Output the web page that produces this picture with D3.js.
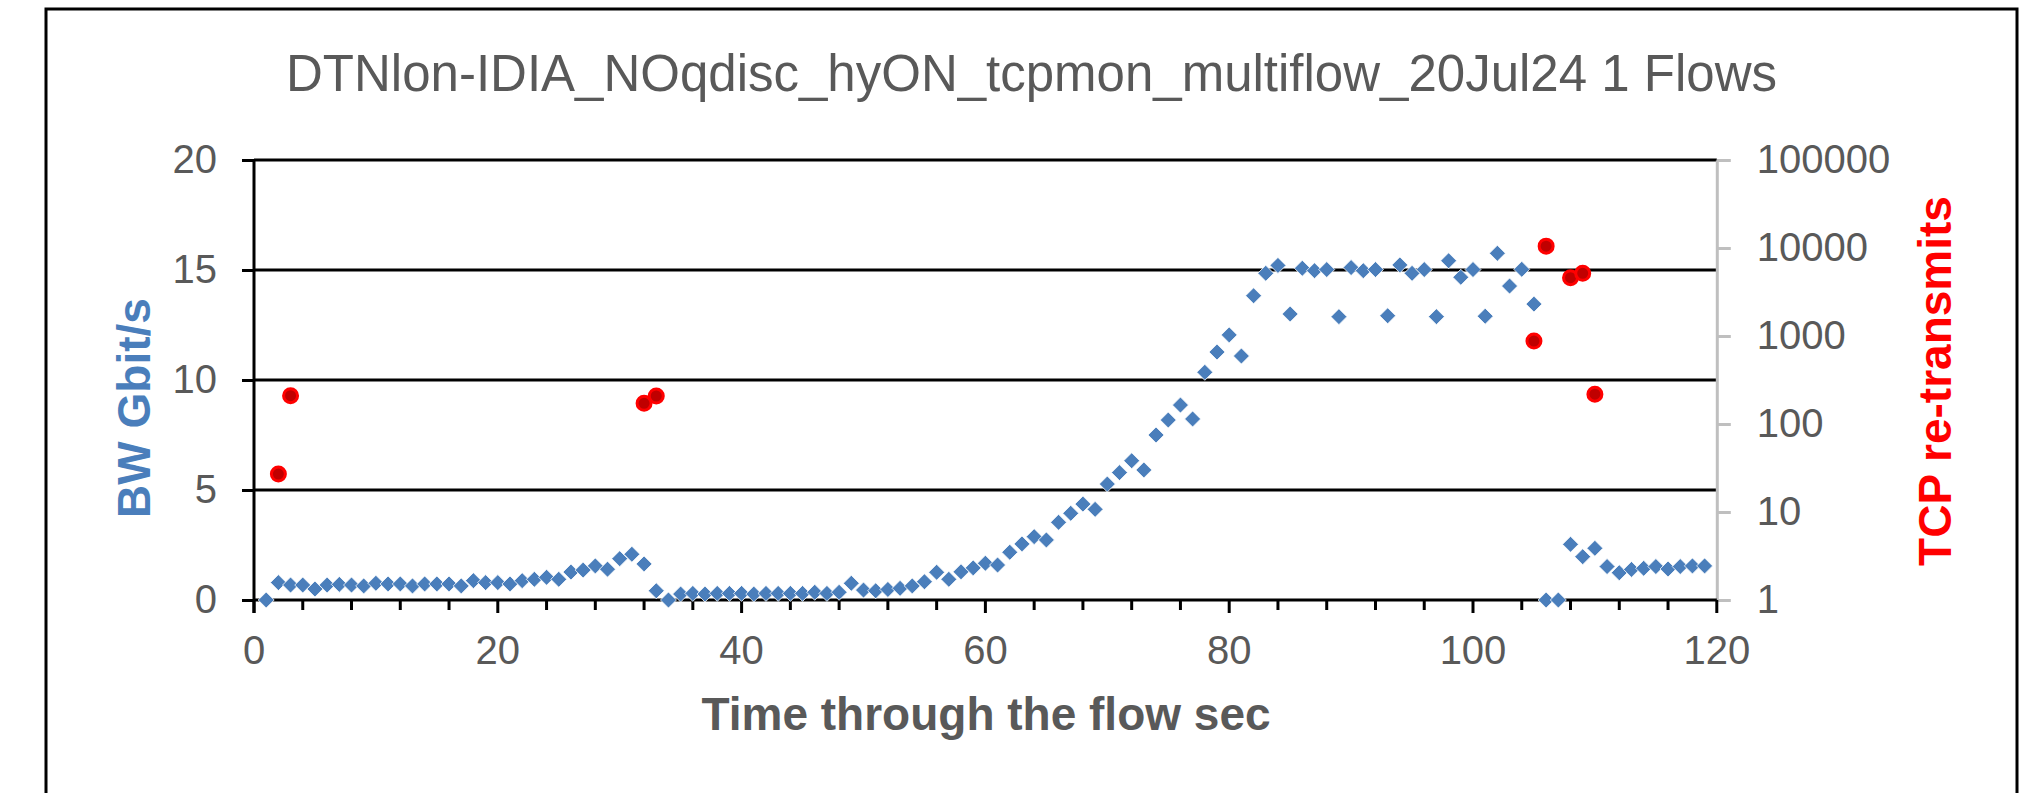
<!DOCTYPE html>
<html>
<head>
<meta charset="utf-8">
<script src="https://cdn.jsdelivr.net/npm/d3@7/dist/d3.min.js"></script>
<style>
  html, body { margin: 0; padding: 0; background: #fff; }
  svg { display: block; }
  text { font-family: "Liberation Sans", Arial, sans-serif; }
</style>
</head>
<body>
<svg id="chart" width="2023" height="793"></svg>
<script>
// ---- data ----
const chartTitle = "DTNlon-IDIA_NOqdisc_hyON_tcpmon_multiflow_20Jul24 1 Flows";
const xTitle = "Time through the flow sec";
const yLeftTitle = "BW Gbit/s";
const yRightTitle = "TCP re-transmits";

const bwTimes = d3.range(1, 120); // 1..119 s
const bwValues = [
  0.00, 0.79, 0.68, 0.68, 0.50, 0.68, 0.71, 0.68, 0.64, 0.76,
  0.73, 0.73, 0.64, 0.73, 0.73, 0.73, 0.64, 0.88, 0.79, 0.79,
  0.73, 0.88, 0.94, 1.03, 0.94, 1.27, 1.36, 1.55, 1.40, 1.88,
  2.08, 1.64, 0.42, 0.00, 0.27, 0.30, 0.27, 0.30, 0.30, 0.30,
  0.27, 0.30, 0.30, 0.30, 0.30, 0.35, 0.30, 0.35, 0.76, 0.45,
  0.42, 0.48, 0.53, 0.64, 0.83, 1.26, 0.94, 1.28, 1.46, 1.67,
  1.59, 2.17, 2.55, 2.88, 2.73, 3.53, 3.94, 4.36, 4.12, 5.27,
  5.79, 6.33, 5.91, 7.50, 8.18, 8.86, 8.23, 10.35, 11.27, 12.05,
  11.09, 13.83, 14.85, 15.21, 13.00, 15.08, 14.97, 15.02, 12.88, 15.11,
  14.97, 15.02, 12.92, 15.23, 14.85, 15.02, 12.88, 15.42, 14.67, 15.02,
  12.90, 15.76, 14.27, 15.03, 13.45, 0.00, 0.00, 2.53, 1.97, 2.35,
  1.52, 1.24, 1.39, 1.44, 1.52, 1.41, 1.52, 1.55, 1.55
];

const retransTimes  = [2, 3, 32, 33, 105, 106, 108, 109, 110];
const retransValues = [27, 210, 172, 208, 875, 10500, 4600, 5150, 218];

const xTicksMajor = [0, 20, 40, 60, 80, 100, 120];
const xTicksMinor = d3.range(0, 121, 4);
const yLeftTicks  = [0, 5, 10, 15, 20];
const yRightTicks = [1, 10, 100, 1000, 10000, 100000];

// ---- layout ----
const svg = d3.select("#chart");
const plot = { left: 254, right: 1716.8, top: 160, bottom: 600 };
const textGray = "#595959";
const blue = "#4A7EBB";

const x = d3.scaleLinear().domain([0, 120]).range([plot.left, plot.right]);
const yL = d3.scaleLinear().domain([0, 20]).range([plot.bottom, plot.top]);
const yR = d3.scaleLog().domain([1, 100000]).range([plot.bottom, plot.top]);

// outer frame
svg.append("rect")
  .attr("x", 46).attr("y", 9).attr("width", 1971).attr("height", 820)
  .attr("fill", "none").attr("stroke", "#000").attr("stroke-width", 3);

// title
svg.append("text")
  .attr("x", 1031.5).attr("y", 91)
  .attr("text-anchor", "middle")
  .attr("font-size", 51).attr("fill", textGray)
  .text(chartTitle);

// gridlines
svg.append("g").selectAll("line")
  .data(yLeftTicks.filter(d => d > 0))
  .join("line")
  .attr("x1", plot.left).attr("x2", plot.right)
  .attr("y1", d => yL(d)).attr("y2", d => yL(d))
  .attr("stroke", "#000").attr("stroke-width", 3);

// right axis (gray, log)
const rightAxis = d3.axisRight(yR)
  .tickValues(yRightTicks)
  .tickFormat(d3.format("d"))
  .tickSizeInner(14).tickSizeOuter(0).tickPadding(26);
const gR = svg.append("g").attr("transform", `translate(${plot.right},0)`).call(rightAxis);
gR.select(".domain").attr("stroke", "#BFBFBF").attr("stroke-width", 3);
gR.selectAll(".tick line").attr("stroke", "#BFBFBF").attr("stroke-width", 3);
gR.selectAll(".tick text").attr("font-size", 40).attr("fill", textGray)
  .attr("font-family", "Liberation Sans, Arial, sans-serif");

// left axis
const leftAxis = d3.axisLeft(yL)
  .tickValues(yLeftTicks)
  .tickFormat(d3.format("d"))
  .tickSizeInner(12).tickSizeOuter(0).tickPadding(25);
const gL = svg.append("g").attr("transform", `translate(${plot.left},0)`).call(leftAxis);
gL.select(".domain").attr("stroke", "#000").attr("stroke-width", 3)
  .attr("d", `M0,${plot.top}V${plot.bottom + 13}`);
gL.selectAll(".tick line").attr("stroke", "#000").attr("stroke-width", 3);
gL.selectAll(".tick text").attr("font-size", 40).attr("fill", textGray)
  .attr("font-family", "Liberation Sans, Arial, sans-serif");

// x axis
const gX = svg.append("g").attr("transform", `translate(0,${plot.bottom})`);
gX.append("line")
  .attr("x1", plot.left).attr("x2", plot.right)
  .attr("y1", 0).attr("y2", 0)
  .attr("stroke", "#000").attr("stroke-width", 3);
gX.selectAll("line.minor")
  .data(xTicksMinor.filter(d => !xTicksMajor.includes(d)))
  .join("line").attr("class", "minor")
  .attr("x1", d => x(d)).attr("x2", d => x(d))
  .attr("y1", 0).attr("y2", 10)
  .attr("stroke", "#000").attr("stroke-width", 3);
gX.selectAll("line.major")
  .data(xTicksMajor)
  .join("line").attr("class", "major")
  .attr("x1", d => x(d)).attr("x2", d => x(d))
  .attr("y1", 0).attr("y2", 13)
  .attr("stroke", "#000").attr("stroke-width", 3);
gX.selectAll("text")
  .data(xTicksMajor)
  .join("text")
  .attr("x", d => x(d)).attr("y", 64)
  .attr("text-anchor", "middle")
  .attr("font-size", 40).attr("fill", textGray)
  .text(d => d);

// axis titles
svg.append("text")
  .attr("x", 986).attr("y", 730)
  .attr("text-anchor", "middle")
  .attr("font-size", 46).attr("font-weight", "bold").attr("fill", textGray)
  .text(xTitle);

svg.append("text")
  .attr("transform", "translate(150,408) rotate(-90)")
  .attr("text-anchor", "middle")
  .attr("font-size", 46).attr("font-weight", "bold").attr("fill", blue)
  .text(yLeftTitle);

svg.append("text")
  .attr("transform", "translate(1951,381) rotate(-90)")
  .attr("text-anchor", "middle")
  .attr("font-size", 46).attr("font-weight", "bold").attr("fill", "#FF0000")
  .text(yRightTitle);

// BW diamonds
const bwData = bwTimes.map((t, i) => ({ t, v: bwValues[i] }));
const dr = 8;
svg.append("g").selectAll("path")
  .data(bwData)
  .join("path")
  .attr("transform", d => `translate(${x(d.t)},${yL(d.v)})`)
  .attr("d", `M0,${-dr}L${dr},0L0,${dr}L${-dr},0Z`)
  .attr("fill", blue)
  .attr("stroke", "#ffffff").attr("stroke-width", 0.8);

// retransmit circles
const rtData = retransTimes.map((t, i) => ({ t, v: retransValues[i] }));
svg.append("g").selectAll("circle")
  .data(rtData)
  .join("circle")
  .attr("cx", d => x(d.t)).attr("cy", d => yR(d.v))
  .attr("r", 7)
  .attr("fill", "#C00000")
  .attr("stroke", "#FF0000").attr("stroke-width", 3);
</script>
</body>
</html>
